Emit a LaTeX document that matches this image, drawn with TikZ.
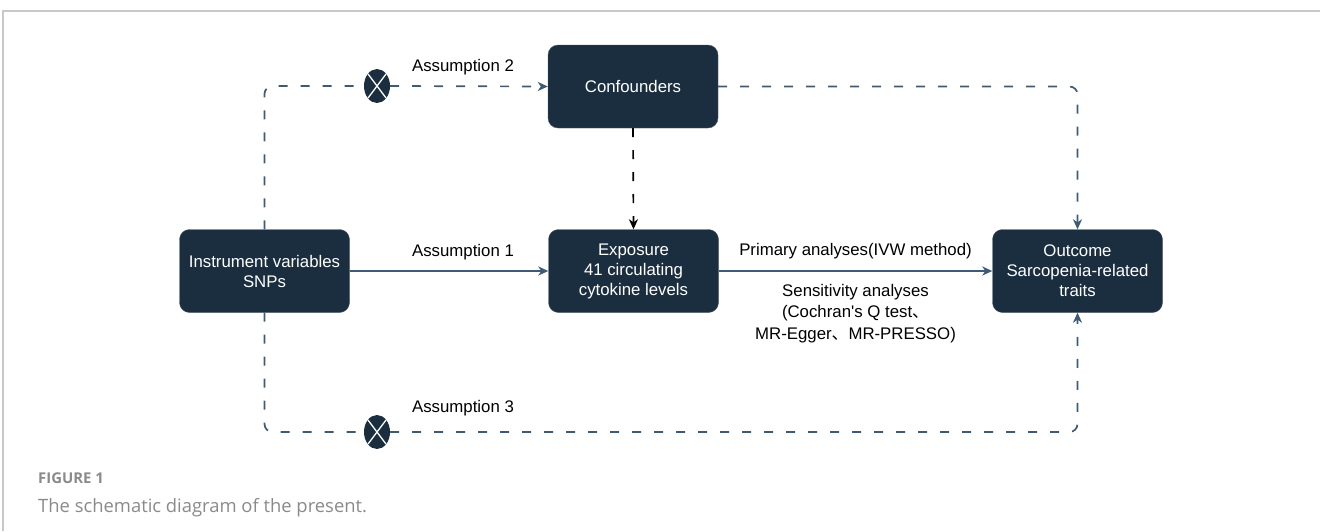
\documentclass[tikz,border=0pt]{standalone}
\usepackage{fontspec}
\setmainfont{Liberation Sans}[Ligatures=TeXOff]
\newfontfamily\cjk{Noto Sans CJK SC}
\newfontfamily\capfont{Open Sans}
\usetikzlibrary{arrows.meta,shapes.geometric,calc}
\definecolor{navy}{HTML}{1B2E40}
\definecolor{steel}{HTML}{3E5A75}
\definecolor{framegray}{HTML}{C8C8C8}
\definecolor{capgray}{HTML}{8A8A8A}
\newcommand{\dcomma}{{\cjk 、}}
\tikzset{
  x=1pt, y=-1pt,
  box/.style={draw=navy!80!white, fill=navy, rounded corners=10pt, text=white,
    minimum width=170pt, minimum height=83pt, align=center, inner sep=2pt,
    font=\fontsize{16.8}{20}\selectfont},
  lbl/.style={align=center, font=\fontsize{16.8}{21.5}\selectfont, inner sep=0pt},
  tip/.style={-{Stealth[length=10pt,width=9pt,inset=3pt]}},
  solidline/.style={draw=steel, line width=1.7pt},
  dashline/.style={draw=steel, line width=1.7pt, dash pattern=on 9pt off 13pt},
  blackdash/.style={draw=black, line width=1.7pt, dash pattern=on 9pt off 13pt},
  xmark/.style={ellipse, fill=navy, minimum width=26pt, minimum height=34pt, inner sep=0pt},
}
\begin{document}
\begin{tikzpicture}
\useasboundingbox (0,0) rectangle (1320,531);
% page frame
\draw[framegray, line width=1.5pt] (3,531) -- (3,11) -- (1320,11);

% boxes
\node[box] (ins)  at (264.5,271) {Instrument variables\\SNPs};
\node[box] (exp)  at (633.5,271) {Exposure\\41 circulating\\cytokine levels};
\node[box] (conf) at (633,86.5) {Confounders};
\node[box] (out)  at (1077.5,271) {Outcome\\Sarcopenia-related\\traits};

% crossed-out markers on the violated paths
\node[xmark] (xa) at (377,86) {};
\node[xmark] (xb) at (377,432) {};
\foreach \m in {xa,xb} {
  \draw[white, line width=1.3pt] ($(\m.center)+(-9,-12)$) -- ($(\m.center)+(9,12)$);
  \draw[white, line width=1.3pt] ($(\m.center)+(-9,12)$) -- ($(\m.center)+(9,-12)$);
}

% connectors
\draw[solidline, tip] (ins.east) -- (exp.west);
\draw[solidline, tip] (exp.east) -- (out.west);
\draw[dashline, rounded corners=8pt] (ins.north) |- (xa.west);
\draw[dashline, tip] (xa.east) -- (conf.west);
\draw[dashline, tip, rounded corners=8pt] (conf.east) -| (out.north);
\draw[blackdash, tip] (conf.south) -- (exp.north);
\draw[dashline, rounded corners=8pt] (ins.south) |- (xb.west);
\draw[dashline, tip, rounded corners=8pt] (xb.east) -| (out.south);

% labels
\node[lbl] (a2) at (463,67) {Assumption 2};
\node[lbl] (a1) at (463,252) {Assumption 1};
\node[lbl] (a3) at (463,408) {Assumption 3};
\node[lbl] (pa) at (855.5,251) {Primary analyses(IVW method)};
\node[lbl, anchor=north] (sa) at (855.5,284) {Sensitivity analyses\\(Cochran's Q test\dcomma\\MR-Egger\dcomma MR-PRESSO)};

% caption
\node[anchor=west, inner sep=0pt, text=capgray, font=\capfont\bfseries\fontsize{14.9}{17}\selectfont] (fig) at (38,478) {FIGURE 1};
\node[anchor=west, inner sep=0pt, text=capgray, font=\capfont\fontsize{18.4}{22}\selectfont] (cap) at (38,508) {The schematic diagram of the present.};
\end{tikzpicture}
\end{document}
